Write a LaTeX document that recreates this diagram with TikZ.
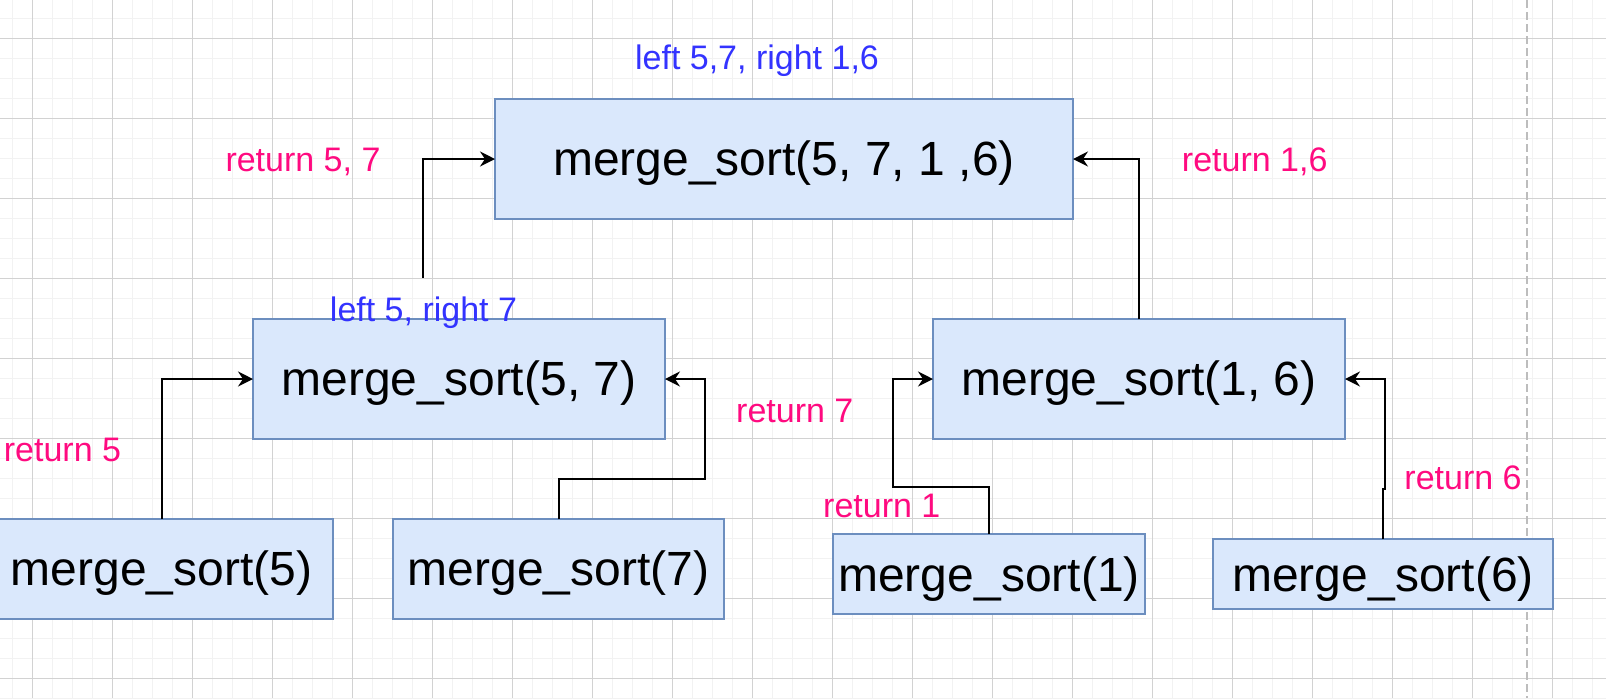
\documentclass[tikz,border=0pt]{standalone}
\usepackage{fontspec}
\setmainfont{Liberation Sans}
\usetikzlibrary{arrows.meta}
\definecolor{boxfill}{HTML}{DAE8FC}
\definecolor{boxline}{HTML}{6C8EBF}
\definecolor{retred}{HTML}{FF0A80}
\definecolor{argblue}{HTML}{3333FF}
\definecolor{gridminor}{HTML}{F2F2F2}
\definecolor{gridmajor}{HTML}{D2D2D2}
\definecolor{pageline}{HTML}{BDBDBD}
\tikzset{
  box/.style={draw=boxline, fill=boxfill, line width=0.75pt, rectangle,
    inner sep=0pt, outer sep=0pt, text height=16pt, text depth=0pt,
    font=\fontsize{24pt}{28pt}\selectfont},
  lowbox/.style={box, text height=17.5pt},
  conn/.style={draw=black, line width=1pt,
    -{Stealth[length=7.5pt,width=7.5pt,inset=2.5pt]}},
  retlabel/.style={text=retred, anchor=base, inner sep=0pt,
    font=\fontsize{17pt}{20pt}\selectfont},
  arglabel/.style={text=argblue, anchor=base, inner sep=0pt,
    font=\fontsize{17pt}{20pt}\selectfont},
  minorgrid/.style={draw=gridminor, line width=0.8pt},
  majorgrid/.style={draw=gridmajor, line width=0.5pt},
}
\begin{document}
\begin{tikzpicture}[x=0.5pt, y=-0.5pt]
\useasboundingbox (0,0) rectangle (1606,698);
\clip (0,0) rectangle (1606,698);
\fill[white] (0,0) rectangle (1606,698);
% grid
\foreach \i in {0,...,79} \draw[minorgrid] ({12.3+20*\i},0) -- ({12.3+20*\i},698);
\foreach \j in {0,...,34} \draw[minorgrid] (0,{18.3+20*\j}) -- (1606,{18.3+20*\j});
\foreach \i in {0,...,19} \draw[majorgrid] ({32.3+80*\i},0) -- ({32.3+80*\i},698);
\foreach \j in {0,...,8} \draw[majorgrid] (0,{38.3+80*\j}) -- (1606,{38.3+80*\j});
% page break line
\draw[pageline, line width=0.8pt, dash pattern=on 4pt off 2pt] (1527,0) -- (1527,698);
% boxes
\node[box, minimum width=289pt, minimum height=60pt] (top) at (784,159) {merge\_sort(5, 7, 1 ,6)};
\node[box, minimum width=206pt, minimum height=60pt] (ms57) at (459,379) {merge\_sort(5, 7)};
\node[box, minimum width=206pt, minimum height=60pt] (ms16) at (1139,379) {merge\_sort(1, 6)};
\node[box, minimum width=171.5pt, minimum height=50pt] (ms5) at (161.5,569) {merge\_sort(5)};
\node[box, minimum width=165.5pt, minimum height=50pt] (ms7) at (558.5,569) {merge\_sort(7)};
\node[lowbox, minimum width=156pt, minimum height=40pt] (ms1) at (989,574) {merge\_sort(1)};
\node[lowbox, minimum width=170pt, minimum height=35pt] (ms6) at (1383,574) {merge\_sort(6)};
% connectors
\coordinate (c57) at (422.7,277.7);
\draw[conn] (c57) |- (top.west);
\draw[conn] (ms5.north) |- (ms57.west);
\draw[conn] (ms7.north) |- (705,479) |- (ms57.east);
\draw[conn] (ms16.north) |- (top.east);
\draw[conn] (ms1.north) |- (893,487) |- (ms16.west);
\draw[conn] (ms6.north) -- ++(0,-50) -- ++(1.5,0) |- (ms16.east);
% labels
\node[arglabel] (lt) at (757,69.3) {left 5,7, right 1,6};
\node[arglabel] (l57) at (423.5,321.7) {left 5, right 7};
\node[retlabel] (r57) at (303,171.7) {return 5, 7};
\node[retlabel] (r16) at (1254.7,171.7) {return 1,6};
\node[retlabel] (r5) at (62.5,461.7) {return 5};
\node[retlabel] (r7) at (794.8,422.3) {return 7};
\node[retlabel] (r1) at (881.8,517.3) {return 1};
\node[retlabel] (r6) at (1463,489) {return 6};
\end{tikzpicture}
\end{document}
